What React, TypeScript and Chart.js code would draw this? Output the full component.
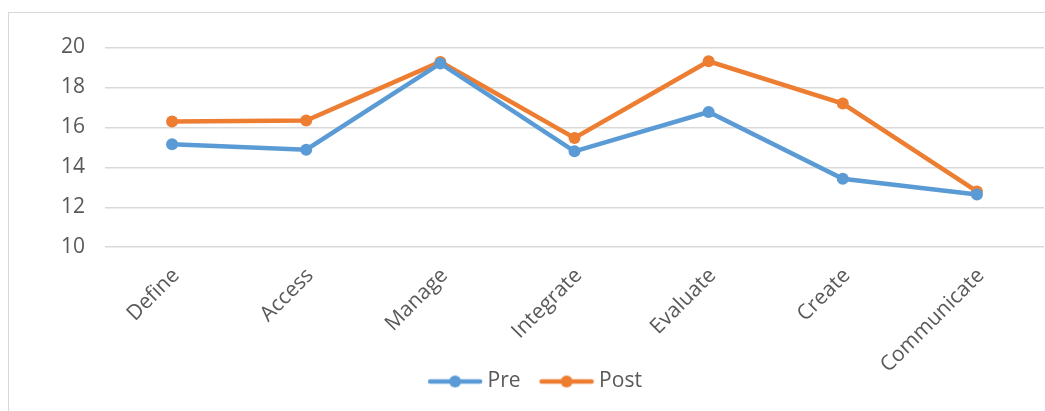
import React, { useEffect, useRef } from "react";
import { Chart, registerables } from "chart.js";

Chart.register(...registerables);

const categories = ["Define", "Access", "Manage", "Integrate", "Evaluate", "Create", "Communicate"];
const preValues = [15.15, 14.88, 19.2, 14.8, 16.77, 13.43, 12.64];
const postValues = [16.3, 16.34, 19.28, 15.47, 19.31, 17.19, 12.79];
const seriesNames = ["Pre", "Post"];
const seriesColors = ["#5B9BD5", "#ED7D31"];
const yMin = 10;
const yMax = 20;
const yStep = 2;

const FONT = "'Open Sans', 'Noto Sans', sans-serif";
const TEXT = "#595959";

function makeLegendIcon(color: string): HTMLCanvasElement {
  const c = document.createElement("canvas");
  c.width = 62;
  c.height = 14;
  const g = c.getContext("2d")!;
  g.strokeStyle = color;
  g.lineWidth = 4.5;
  g.lineCap = "round";
  g.beginPath();
  g.moveTo(8, 7);
  g.lineTo(58, 7);
  g.stroke();
  g.fillStyle = color;
  g.beginPath();
  g.arc(33, 7, 6, 0, Math.PI * 2);
  g.fill();
  return c;
}

const layoutTweaks = {
  id: "layoutTweaks",
  afterLayout(chart: any) {
    const x = chart.scales.x;
    if (x) x.bottom = chart.height;
    const lg = chart.legend;
    if (lg) {
      lg.left += 7;
      lg.right += 7;
    }
  },
};

export default function App() {
  const ref = useRef<HTMLCanvasElement>(null);

  useEffect(() => {
    if (!ref.current) return;
    const icons = seriesColors.map(makeLegendIcon);
    const chart = new Chart(ref.current, {
      type: "line",
      data: {
        labels: categories,
        datasets: [preValues, postValues].map((vals, i) => ({
          label: seriesNames[i],
          data: vals,
          borderColor: seriesColors[i],
          backgroundColor: seriesColors[i],
          borderWidth: 4.5,
          pointRadius: 6,
          pointBorderWidth: 0,
          pointBackgroundColor: seriesColors[i],
          pointStyle: "circle",
          tension: 0,
        })),
      },
      plugins: [layoutTweaks],
      options: {
        responsive: false,
        animation: false,
        layout: { padding: { left: 0, right: 2, top: 34.5, bottom: 9 } },
        scales: {
          x: {
            offset: true,
            grid: { display: false, drawTicks: false },
            border: { display: false },
            ticks: {
              minRotation: 45,
              maxRotation: 45,
              autoSkip: false,
              padding: 16,
              labelOffset: 4,
              color: TEXT,
              font: { family: FONT, size: 21 },
            },
            afterFit: (s: any) => {
              s.height = 103.8;
            },
          },
          y: {
            min: yMin,
            max: yMax,
            grid: { color: "#D9D9D9", lineWidth: 1.5, drawTicks: false },
            border: { display: false },
            ticks: {
              stepSize: yStep,
              padding: 20,
              color: TEXT,
              font: { family: FONT, size: 21 },
            },
            afterFit: (s: any) => {
              s.width = 96;
            },
          },
        },
        plugins: {
          legend: {
            position: "bottom",
            labels: {
              usePointStyle: true,
              pointStyleWidth: 48,
              boxHeight: 14,
              padding: 20,
              color: TEXT,
              font: { family: FONT, size: 21 },
              generateLabels: (ch: any) =>
                ch.data.datasets.map((ds: any, i: number) => ({
                  text: ds.label,
                  fillStyle: seriesColors[i],
                  strokeStyle: seriesColors[i],
                  lineWidth: 0,
                  pointStyle: icons[i],
                  hidden: false,
                  datasetIndex: i,
                  fontColor: TEXT,
                })),
            },
          },
          tooltip: { enabled: false },
        },
      },
    } as any);
    return () => chart.destroy();
  }, []);

  return (
    <div
      style={{
        position: "fixed",
        left: 8,
        top: 12,
        width: 1037,
        height: 399,
        overflow: "hidden",
        borderLeft: "1px solid #D9D9D9",
        borderTop: "1px solid #D9D9D9",
        background: "#fff",
      }}
    >
      <canvas ref={ref} width={1041} height={398} style={{ display: "block" }} />
    </div>
  );
}
